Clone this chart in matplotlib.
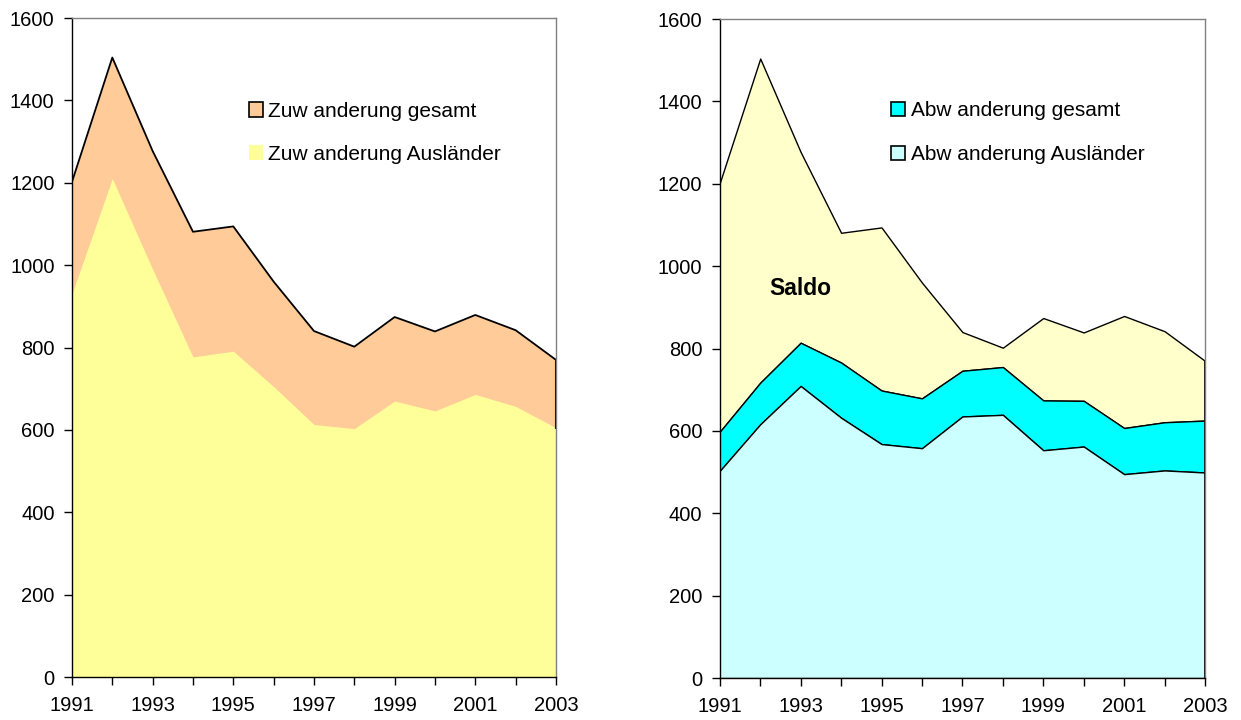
import matplotlib
matplotlib.use("Agg")
import matplotlib.pyplot as plt
from matplotlib.patches import Patch

plt.rcParams['font.family'] = ['Liberation Sans', 'DejaVu Sans']

years = [1991, 1992, 1993, 1994, 1995, 1996, 1997, 1998, 1999, 2000, 2001, 2002, 2003]
zu_gesamt = [1202, 1504, 1277, 1081, 1094, 960, 840, 802, 874, 839, 879, 842, 770]
zu_auslaender = [930, 1210, 990, 777, 791, 705, 613, 603, 670, 646, 686, 657, 605]
ab_gesamt = [598, 717, 814, 766, 698, 679, 746, 755, 674, 673, 607, 621, 625]
ab_auslaender = [503, 616, 709, 632, 568, 558, 635, 639, 553, 562, 495, 504, 499]

year_labels = [str(y) if (y - 1991) % 2 == 0 else '' for y in years]
y_ticks = [0, 200, 400, 600, 800, 1000, 1200, 1400, 1600]

fig = plt.figure(figsize=(12.41, 7.2), dpi=100)
ax1 = fig.add_axes([0.058, 0.0597, 0.390, 0.9153])
ax2 = fig.add_axes([0.580, 0.0583, 0.391, 0.9153])

# Left panel
ax1.fill_between(years, 0, zu_gesamt, color='#FFCC99', linewidth=0)
ax1.fill_between(years, 0, zu_auslaender, color='#FFFF99', linewidth=0)
ax1.plot(years, zu_gesamt, color='black', lw=1.3, zorder=3)
ax1.plot([years[-1], years[-1]], [zu_auslaender[-1], zu_gesamt[-1]], color='black', lw=1.5, zorder=3)

h1 = [Patch(facecolor='#FFCC99', edgecolor='black', linewidth=1.2),
      Patch(facecolor='#FFFF99', edgecolor='none')]
ax1.legend(h1, ['Zuw anderung gesamt', 'Zuw anderung Ausländer'],
           loc='upper left', bbox_to_anchor=(0.366, 0.873), frameon=False,
           fontsize=15, handlelength=0.68, handleheight=0.68, handletextpad=0.25,
           labelspacing=1.15, borderpad=0, borderaxespad=0)

# Right panel
ax2.fill_between(years, ab_gesamt, zu_gesamt, facecolor='#FFFFCC', edgecolor='black', linewidth=1.0)
ax2.fill_between(years, ab_auslaender, ab_gesamt, facecolor='#00FFFF', edgecolor='black', linewidth=1.0)
ax2.fill_between(years, 0, ab_auslaender, facecolor='#CCFFFF', edgecolor='black', linewidth=1.0)
ax2.plot([years[-1], years[-1]], [0, zu_gesamt[-1]], color='black', lw=1.3, zorder=3)

h2 = [Patch(facecolor='#00FFFF', edgecolor='black', linewidth=1.2),
      Patch(facecolor='#CCFFFF', edgecolor='black', linewidth=1.2)]
ax2.legend(h2, ['Abw anderung gesamt', 'Abw anderung Ausländer'],
           loc='upper left', bbox_to_anchor=(0.352, 0.875), frameon=False,
           fontsize=15, handlelength=0.68, handleheight=0.68, handletextpad=0.3,
           labelspacing=1.2, borderpad=0, borderaxespad=0)

ax2.text(1993.0, 945, 'Saldo', fontsize=16.5, fontweight='bold', ha='center', va='center')

for ax in (ax1, ax2):
    ax.set_xlim(1991, 2003)
    ax.set_ylim(0, 1600)
    ax.set_xticks(years)
    ax.set_xticklabels(year_labels, fontsize=14.5)
    ax.set_yticks(y_ticks)
    ax.set_yticklabels([str(v) for v in y_ticks], fontsize=14.5)
    ax.tick_params(direction='out', length=6, width=1, color='black')
    ax.tick_params(axis='x', pad=8)
    ax.tick_params(axis='y', pad=6.5)
    ax.spines['left'].set_color('black')
    ax.spines['bottom'].set_color('black')
    ax.spines['top'].set_color('#808080')
    ax.spines['right'].set_color('#808080')
    for s in ax.spines.values():
        s.set_linewidth(1.0)
        s.set_zorder(5)
    ax.set_facecolor('white')

fig.savefig('out.png', dpi=100)
